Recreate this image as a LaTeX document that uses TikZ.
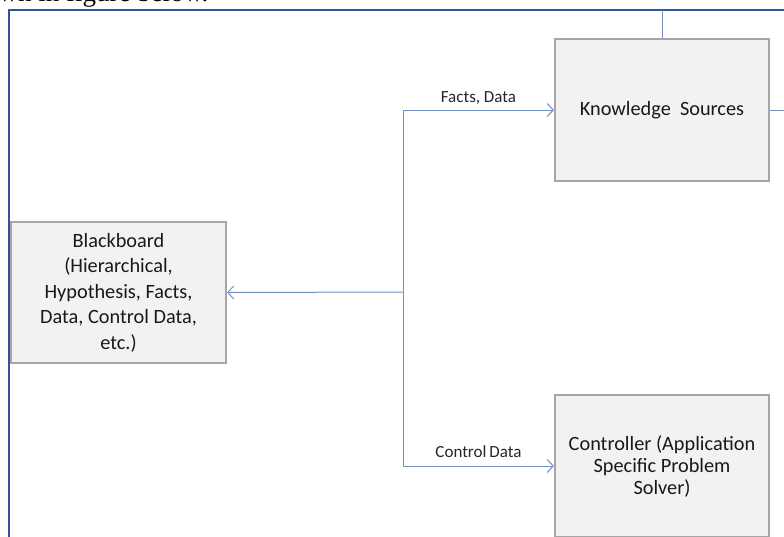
\documentclass[tikz,border=0pt]{standalone}
\usepackage{fontspec}
\setmainfont{Carlito}
\newfontfamily\docserif{Liberation Serif}
\usetikzlibrary{arrows.meta,positioning}
\definecolor{frameblue}{RGB}{47,85,151}
\definecolor{linkblue}{RGB}{112,146,190}
\definecolor{boxgray}{RGB}{166,166,166}
\definecolor{boxfill}{RGB}{242,242,242}

\begin{document}
\begin{tikzpicture}[x=1pt,y=-1pt,
      block/.style={
         rectangle,
         minimum width=214pt,
         minimum height=142pt,
         line width=2.2pt,
         draw=boxgray,
         fill=boxfill,
         align=center,
         inner sep=0pt,
         text=black!90,
         font=\fontsize{20.3}{25.5}\selectfont
      },
      edgelabel/.style={
         font=\fontsize{17}{20}\selectfont,
         text=black!85
      },
      link/.style={draw=linkblue,line width=1pt},
      tip/.style={link,-{Straight Barb[length=6pt,width=13pt,line width=1pt]}},
      framebox/.style={draw=frameblue,line width=2pt}
    ]
    \useasboundingbox (0,0) rectangle (784,536);
    % text of the page above the figure
    \node (pagetext) [anchor=base west, font=\docserif\fontsize{27}{27}\selectfont] at (-5,1.5) {wn in figure below.};
    % frame
    \coordinate (frame corner) at (9,10);
    \draw [framebox] (9,545) -- (frame corner) -- (795,10);
    % blocks
    \node (bb) [block, minimum width=215pt, minimum height=141pt] at (118.5,292.5) {Blackboard\\(Hierarchical,\\Hypothesis, Facts,\\Data, Control Data,\\etc.)};
    \node (ks) [block] at (662,110) {Knowledge\ \ Sources};
    \node (ctl) [block, font=\fontsize{20.3}{22}\selectfont] at (662,466) {Controller (Application\\Specific Problem\\Solver)};
    % connectors
    \coordinate (split) at (403,292);
    \coordinate (ks out) at (795,110);
    \draw [link] (split |- ks.west) -- (split |- ctl.west);
    \draw [tip] (split) -- (bb.east);
    \draw [tip] (split |- ks.west) -- (ks.west) node [edgelabel, midway, above, inner sep=5pt] {Facts, Data};
    \draw [tip] (split |- ctl.west) -- (ctl.west) node [edgelabel, midway, above, inner sep=8pt] {Control\,Data};
    \draw [link] (ks.north) -- (ks.north |- frame corner);
    \draw [link] (ks.east) -- (ks out);
\end{tikzpicture}
\end{document}
